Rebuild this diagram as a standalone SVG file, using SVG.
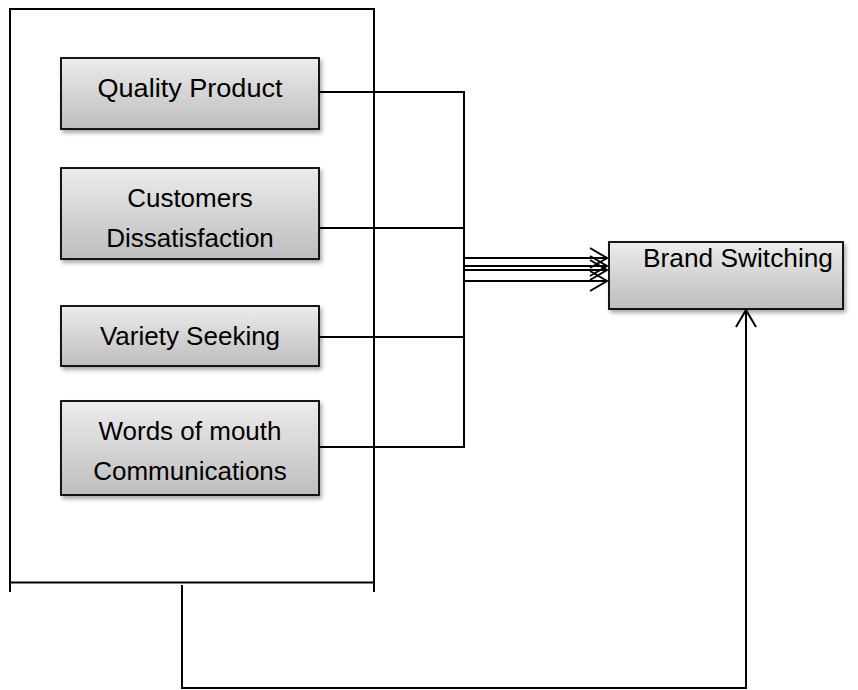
<svg xmlns="http://www.w3.org/2000/svg" width="858" height="690" viewBox="0 0 858 690">
  <defs>
    <linearGradient id="boxFill" x1="0" y1="0" x2="0" y2="1">
      <stop offset="0" stop-color="#ececec"/>
      <stop offset="1" stop-color="#bdbdbd"/>
    </linearGradient>
    <filter id="shadow" x="-10%" y="-10%" width="130%" height="140%">
      <feDropShadow dx="2" dy="3" stdDeviation="2" flood-color="#000" flood-opacity="0.35"/>
    </filter>
    <marker id="open" viewBox="-19 -12 21 24" refX="0" refY="0" markerWidth="21" markerHeight="24" markerUnits="userSpaceOnUse" orient="auto">
      <path d="M-17,-10 L0,0 L-17,10" fill="none" stroke="#000" stroke-width="2"/>
    </marker>
    <style>
      .box { fill: url(#boxFill); stroke: #000; stroke-width: 1.8; filter: url(#shadow); }
      .lbl { font-family: "Liberation Sans", Arial, sans-serif; font-size: 26px; fill: #000; text-anchor: middle; }
      .wire { fill: none; stroke: #000; stroke-width: 2; }
      .frame { fill: none; stroke: #000; stroke-width: 2; }
    </style>
  </defs>

  <!-- enclosing frame for the four factors -->
  <g id="factors-frame">
    <path class="frame" d="M10,592 V9 H374 V592 M10,582.5 H374"/>
  </g>

  <g id="quality-product">
    <rect class="box" x="61" y="58" width="258" height="71"/>
    <text class="lbl" x="190" y="97" textLength="185" lengthAdjust="spacingAndGlyphs">Quality Product</text>
  </g>

  <g id="customers-dissatisfaction">
    <rect class="box" x="61" y="168" width="258" height="91"/>
    <text class="lbl" x="190" y="207">Customers</text>
    <text class="lbl" x="190" y="247">Dissatisfaction</text>
  </g>

  <g id="variety-seeking">
    <rect class="box" x="61" y="306" width="258" height="60"/>
    <text class="lbl" x="190" y="345">Variety Seeking</text>
  </g>

  <g id="words-of-mouth">
    <rect class="box" x="61" y="401" width="258" height="94"/>
    <text class="lbl" x="190" y="440">Words of mouth</text>
    <text class="lbl" x="190" y="480">Communications</text>
  </g>

  <g id="brand-switching">
    <rect class="box" x="609" y="242" width="234" height="67"/>
    <text class="lbl" x="738" y="267" textLength="190" lengthAdjust="spacingAndGlyphs">Brand Switching</text>
  </g>

  <g id="connectors">
    <!-- factor outputs joined on a vertical bus -->
    <path class="wire" d="M319,92 H464 V447 H319"/>
    <path class="wire" d="M319,228 H464"/>
    <path class="wire" d="M319,337 H464"/>
    <!-- bus into Brand Switching -->
    <path class="wire" d="M464,258 H607" marker-end="url(#open)"/>
    <path class="wire" d="M464,266 H607" marker-end="url(#open)"/>
    <path class="wire" d="M464,270 H607" marker-end="url(#open)"/>
    <path class="wire" d="M464,281 H607" marker-end="url(#open)"/>
    <!-- feedback loop from the frame bottom -->
    <path class="wire" d="M182,585 V688 H746 V310" marker-end="url(#open)"/>
  </g>
</svg>
